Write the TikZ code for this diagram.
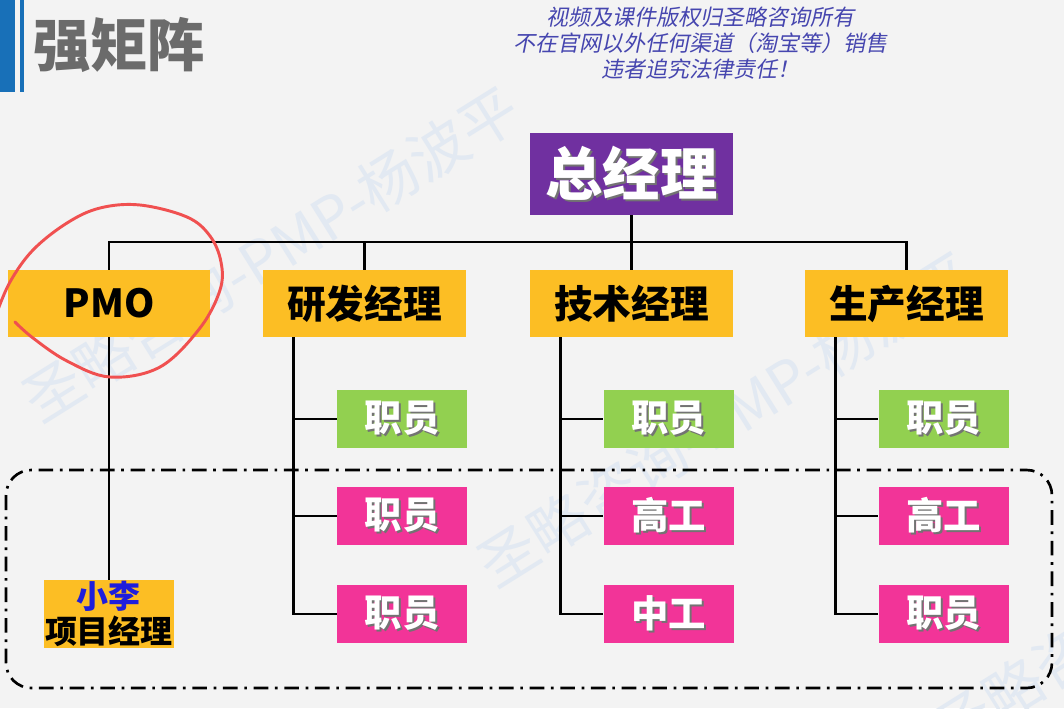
\documentclass[tikz,border=0pt]{standalone}
\usepackage{fontspec}
\setmainfont{Noto Sans CJK SC}
\newfontfamily\slantfont[FakeSlant=0.2]{Noto Sans CJK SC}
\usepackage{xcolor}
\usetikzlibrary{positioning}

% white text with a soft drop shadow
\newcommand{\shadowtxt}[1]{\makebox[0pt][l]{\hspace{1.5pt}\raisebox{-1.5pt}{\textcolor{black!55}{#1}}}#1}

\begin{document}
\begin{tikzpicture}[
  x=0.75pt, y=-0.75pt,
  every node/.style={inner sep=0pt},
  lead/.style={rectangle, fill=cMgr, minimum width=152pt, minimum height=50pt, font=\bfseries\fontsize{29}{29}\selectfont},
  staff/.style={rectangle, text=white, minimum width=97.5pt, minimum height=43.5pt, font=\bfseries\fontsize{28}{28}\selectfont},
  link/.style={line width=2.2pt},
  wmark/.style={text=cMark, rotate=32, font=\fontsize{44}{44}\selectfont}
]
  % colours
  \definecolor{cBg}{RGB}{243,243,243}
  \definecolor{cBar}{RGB}{24,112,184}
  \definecolor{cTitle}{RGB}{107,107,107}
  \definecolor{cNote}{RGB}{70,70,175}
  \definecolor{cMark}{RGB}{226,233,242}
  \definecolor{cGM}{RGB}{112,48,160}
  \definecolor{cMgr}{RGB}{252,190,36}
  \definecolor{cStaff}{RGB}{146,208,80}
  \definecolor{cSenior}{RGB}{242,52,152}
  \definecolor{cName}{RGB}{30,30,220}
  \definecolor{cRing}{RGB}{240,80,80}

  % page
  \fill[cBg] (0,0) rectangle (1064,708);
  \useasboundingbox (0,0) rectangle (1064,708);
  \fill[cBar] (0,0) rectangle (15,92);
  \fill[cBar] (20,0) rectangle (24,92);

  % watermarks
  \foreach \cx/\cy in {271/254, 726/419, 1181/584}
    \node[wmark] (wm\cx) at (\cx,\cy) {圣略咨询-PMP-杨波平};

  % heading and notice
  \node[text=cTitle, anchor=west, font=\bfseries\fontsize{43}{43}\selectfont] (title) at (33,45) {强矩阵};
  \node[text=cNote, align=center, font=\slantfont\fontsize{16.5}{19.5}\selectfont] (notice) at (700,43)
    {视频及课件版权归圣略咨询所有\\不在官网以外任何渠道（淘宝等）销售\\违者追究法律责任！};

  % project team frame
  \draw[line width=2pt, dash pattern=on 11pt off 5pt on 2pt off 5pt, rounded corners=19pt]
    (6,470) rectangle (1052,688);

  % top of the chart
  \node[rectangle, fill=cGM, text=white, minimum width=152pt, minimum height=61.5pt,
        font=\bfseries\fontsize{43}{43}\selectfont] (gm) at (631.5,174) {\shadowtxt{总经理}};

  \node[lead] (pmo) at (109,303.5) {PMO};
  \node[lead] (rd) at (364.5,303.5) {研发经理};
  \node[lead] (tech) at (631.5,303.5) {技术经理};
  \node[lead] (prod) at (906.5,303.5) {生产经理};

  \coordinate (bus) at (0,242);
  \draw[link] (gm.south) -- (gm.south |- bus);
  \draw[link] (pmo.north) |- (bus -| prod.north) -- (prod.north);
  \foreach \n in {rd,tech}
    \draw[link] (\n.north) -- (\n.north |- bus);

  % staff columns
  \foreach \col/\cx/\ta/\tb/\tc in {rd/402/职员/职员/职员, tech/668.5/职员/高工/中工, prod/943.5/职员/高工/职员}{
    \node[staff, fill=cStaff] (\col1) at (\cx,419) {\shadowtxt{\ta}};
    \node[staff, fill=cSenior] (\col2) at (\cx,516) {\shadowtxt{\tb}};
    \node[staff, fill=cSenior] (\col3) at (\cx,614) {\shadowtxt{\tc}};
    \coordinate (\col trunk) at ([xshift=23pt]\col.south west);
    \draw[link] (\col trunk) |- (\col3.west);
    \draw[link] (\col trunk |- \col1.west) -- (\col1.west);
    \draw[link] (\col trunk |- \col2.west) -- (\col2.west);
  }

  % project manager under the PMO
  \node[rectangle, fill=cMgr, minimum width=97.5pt, minimum height=51pt, align=center,
        font=\bfseries\fontsize{24}{26}\selectfont] (pm) at (109,614)
    {\textcolor{cName}{小李}\\项目经理};
  \draw[link] (pmo.south) -- (pm.north);

  % hand-drawn ring
  \draw[cRing, line width=2.2pt, line cap=round] plot[smooth, tension=0.6] coordinates {
    (15,322) (33,338) (67,361) (110,377) (160,367) (200,328) (220,290) (221,262)
    (210,236) (187,217) (140,205) (100,208) (67,223) (33,250) (10,282) (-4,315)};
\end{tikzpicture}
\end{document}
